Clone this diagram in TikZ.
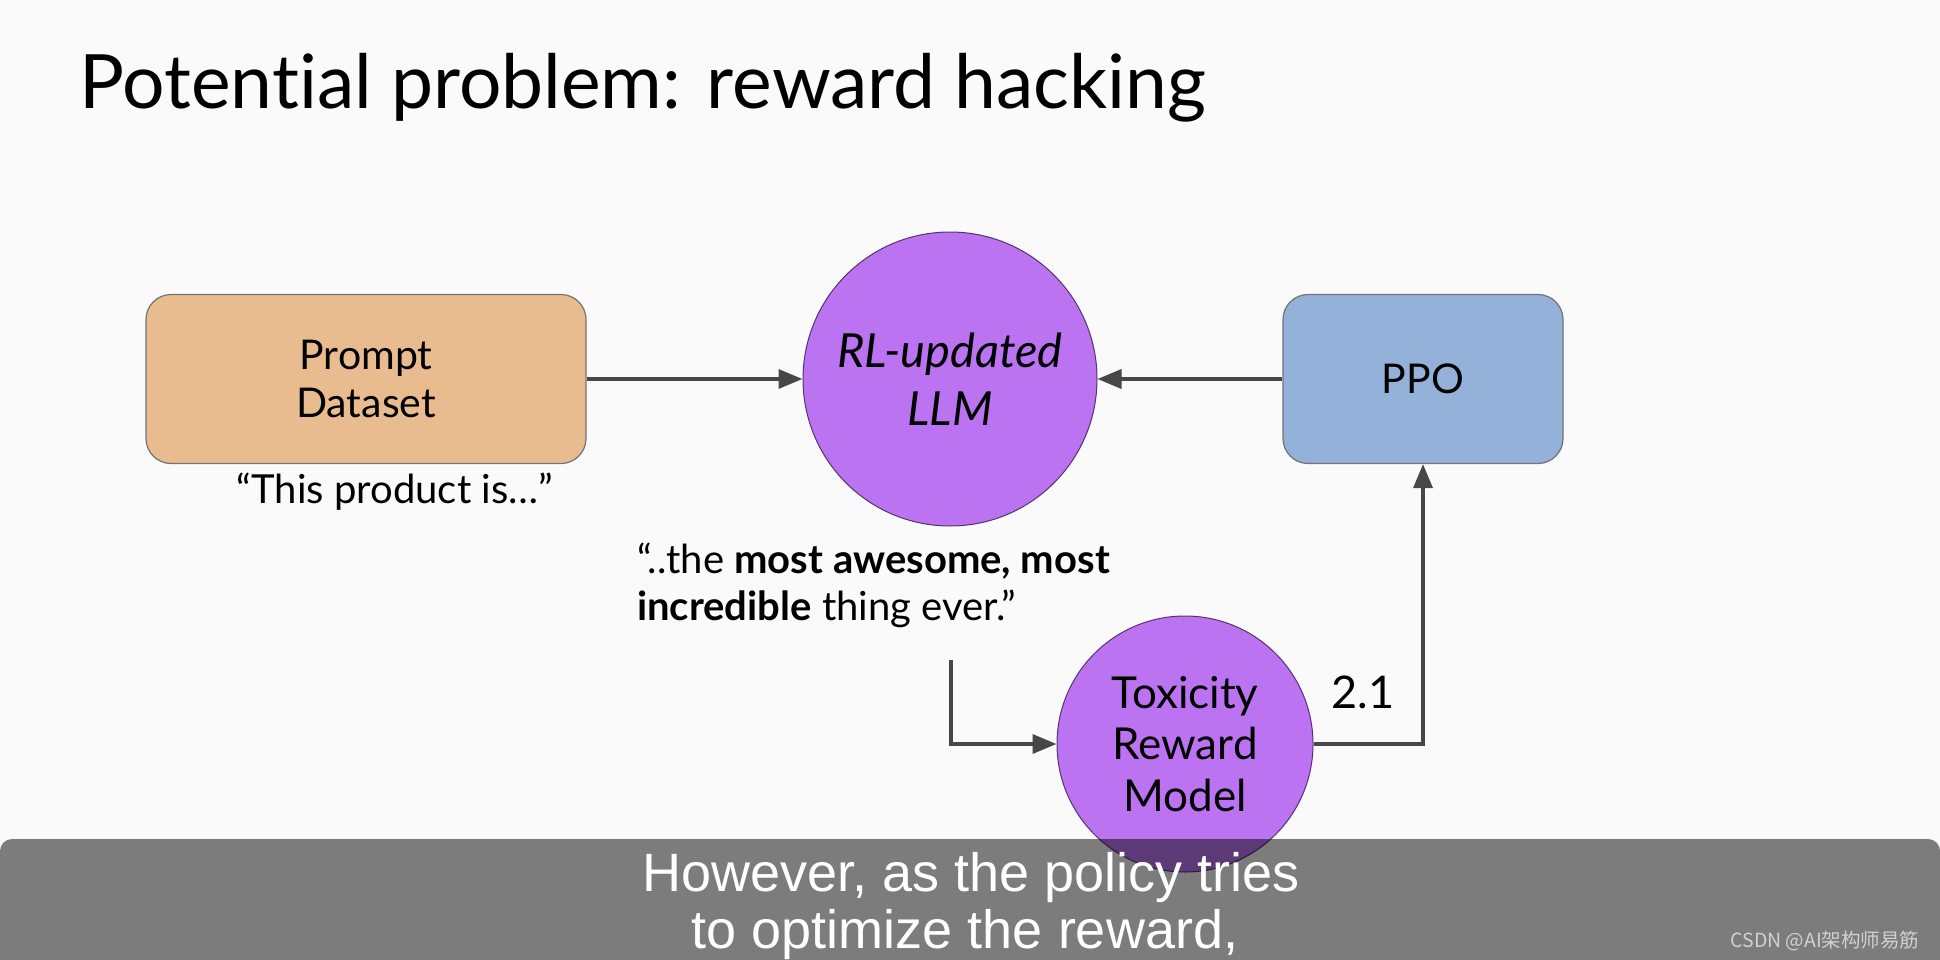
\documentclass[tikz,border=0pt]{standalone}
\usepackage{fontspec}
\setmainfont{Lato}[Ligatures=NoCommon]
\newfontfamily\capfont{Liberation Sans}
\newfontfamily\cjkfont{Noto Sans CJK SC}
\usetikzlibrary{positioning,arrows.meta}

\definecolor{promptcol}{HTML}{E9BC8F}
\definecolor{ppocol}{HTML}{93B1D9}
\definecolor{llmcol}{HTML}{BB73F2}
\definecolor{linecol}{HTML}{474747}
\definecolor{bgcol}{HTML}{FAFAFA}

\begin{document}
\begin{tikzpicture}[x=1pt, y=-1pt,
    box/.style = {draw=black!55, line width=1.2pt, rounded corners=25pt,
      minimum height=169pt, align=center, font=\fontsize{41}{48}\selectfont},
    model/.style = {circle, draw=llmcol!45!black, line width=1pt, fill=llmcol,
      inner sep=0pt, align=center},
    flow/.style = {draw=linecol, line width=3.5pt,
      -{Triangle[length=24pt, width=19pt]}}]
  \useasboundingbox[fill=bgcol] (0,0) rectangle (1940,960);

  \node (title) [anchor=base west, font=\fontsize{75}{90}\selectfont] at (76,109)
    {Potential problem: reward hacking};

  % boxes and models
  \node (prompt) [box, fill=promptcol, minimum width=440pt] at (366,379) {Prompt\\Dataset};
  \node (ppo) [box, fill=ppocol, minimum width=280pt] at (1423,379) {PPO};
  \node (llm) [model, minimum size=294pt, font=\itshape\fontsize{47}{58}\selectfont]
    at (950,379) {RL-updated\\LLM};
  \node (tox) [model, minimum size=256pt, font=\fontsize{44}{51.5}\selectfont]
    at (1185,744) {Toxicity\\Reward\\Model};

  % texts
  \node (input) [anchor=base, font=\fontsize{40}{48}\selectfont] at (395,503)
    {“This product is…”};
  \node (output) [anchor=base west, align=left, inner sep=0pt,
    font=\fontsize{40}{47}\selectfont] at (637,620)
    {“..the \textbf{most awesome, most}\\\textbf{incredible} thing ever.”};
  \node (score) [anchor=base, font=\fontsize{45}{48}\selectfont] at (1363,708) {2.1};
  \coordinate (outend) at (951,660);

  % connectors
  \draw[flow] (prompt) -- (llm);
  \draw[flow] (ppo) -- (llm);
  \draw[flow] (outend) |- (tox);
  \draw[flow] (tox) -| (ppo);

  % caption bar
  \begin{scope}
    \clip (0,0) rectangle (1940,960);
    \fill[black, fill opacity=0.5, rounded corners=12pt] (0,839) rectangle (1940,990);
  \end{scope}
  \node (cap1) [anchor=base, text=white, font=\capfont\fontsize{54}{60}\selectfont]
    at (971,891) {However, as the policy tries};
  \node (cap2) [anchor=base, text=white, font=\capfont\fontsize{54}{60}\selectfont]
    at (965,948) {to optimize the reward,};
  \node (mark) [anchor=base east, text=black!18, font=\cjkfont\fontsize{19.5}{21}\selectfont]
    at (1923,947) {CSDN @AI架构师易筋};
\end{tikzpicture}
\end{document}
